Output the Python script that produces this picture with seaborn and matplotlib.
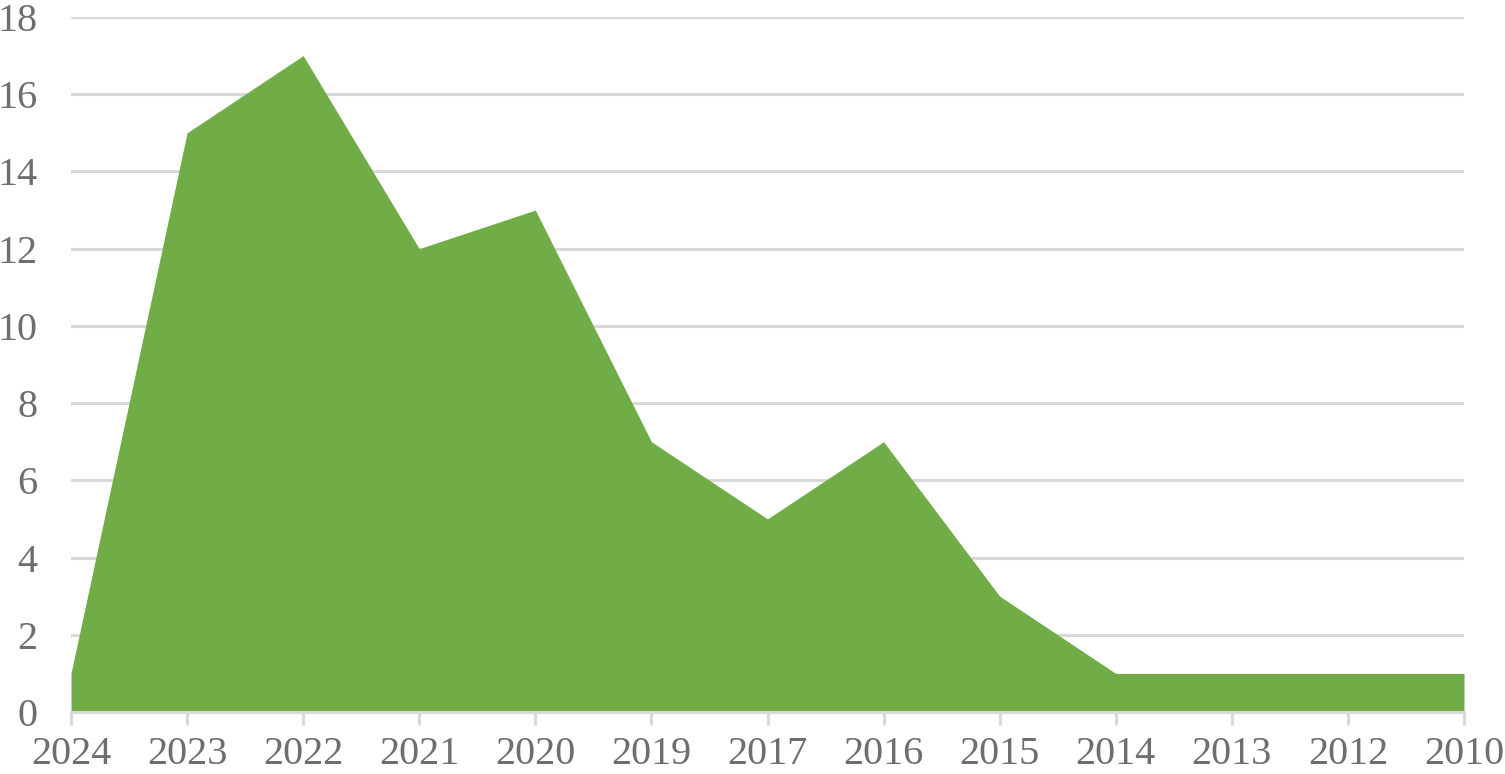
import matplotlib
matplotlib.use("Agg")
import matplotlib.pyplot as plt
import seaborn as sns
import numpy as np
import pandas as pd

years = ["2024", "2023", "2022", "2021", "2020", "2019", "2017", "2016", "2015", "2014", "2013", "2012", "2010"]
counts = [1, 15, 17, 12, 13, 7, 5, 7, 3, 1, 1, 1, 1]
yticks = [0, 2, 4, 6, 8, 10, 12, 14, 16, 18]

sns.set_theme(style="white")
plt.rcParams["font.family"] = ["Liberation Serif", "DejaVu Serif"]

GREEN = "#70AD47"
GRID = "#D9D9D9"
TEXT = "#6E6E6E"

df = pd.DataFrame({"year": years, "count": counts})
df["pos"] = np.arange(len(df))

fig = plt.figure(figsize=(15.05, 7.74), dpi=100)
ax = fig.add_axes([71/1505, 1 - 712/774, (1464-71)/1505, (712-17)/774])

sns.lineplot(data=df, x="pos", y="count", ax=ax, color=GREEN, linewidth=0)
ax.fill_between(df["pos"], df["count"], 0, color=GREEN, linewidth=0, zorder=3)

ax.set_xlim(0, len(years) - 1)
ax.set_ylim(0, 18)
ax.set_yticks(yticks)
ax.set_yticklabels([str(t) for t in yticks])
ax.set_xticks(df["pos"])
ax.set_xticklabels(years)
ax.set_xlabel("")
ax.set_ylabel("")

ax.grid(axis="y", color=GRID, linewidth=2.2, zorder=0)
ax.set_axisbelow(True)
for s in ["top", "right", "left"]:
    ax.spines[s].set_visible(False)
ax.spines["bottom"].set_color(GRID)
ax.spines["bottom"].set_linewidth(2.2)
ax.spines["bottom"].set_zorder(4)

ax.tick_params(axis="x", which="major", length=9, width=2.2, color=GRID,
               direction="out", bottom=True, labelsize=29, labelcolor=TEXT, pad=8)
ax.tick_params(axis="y", length=0, labelsize=29, labelcolor=TEXT, pad=24)

fig.savefig("out.png", dpi=100)
